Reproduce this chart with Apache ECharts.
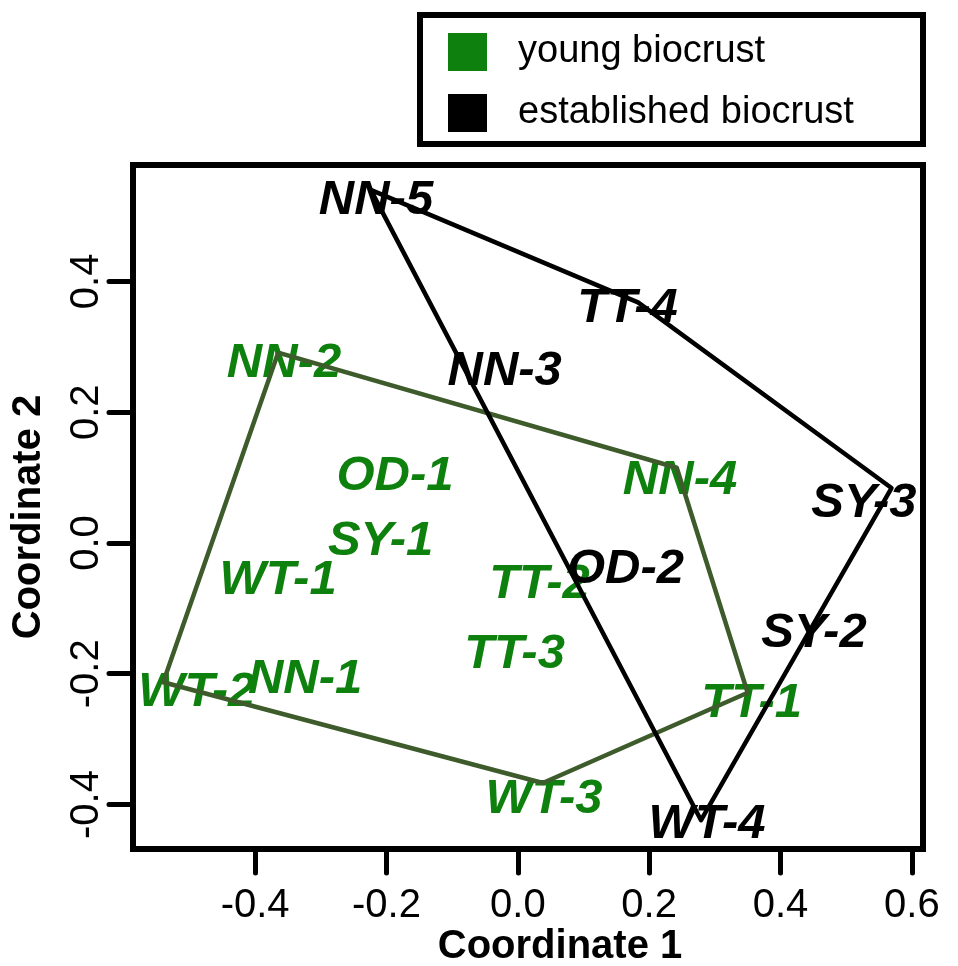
<!DOCTYPE html>
<html>
<head>
<meta charset="utf-8">
<script src="https://cdn.jsdelivr.net/npm/echarts@6/dist/echarts.min.js"></script>
<style>
html,body{margin:0;padding:0;background:#fff;}
#chart{width:958px;height:966px;}
</style>
</head>
<body>
<div id="chart"></div>
<script>
// ---- data ----
const youngNames = ['NN-1','NN-2','NN-4','OD-1','SY-1','TT-1','TT-2','TT-3','WT-1','WT-2','WT-3'];
const youngX = [-0.324,-0.356,0.247,-0.187,-0.209,0.356,0.033,-0.005,-0.365,-0.489,0.040];
const youngY = [-0.209,0.274,0.096,0.102,0.002,-0.246,-0.063,-0.170,-0.057,-0.229,-0.393];

const establishedNames = ['NN-3','NN-5','OD-2','SY-2','SY-3','TT-4','WT-4'];
const establishedX = [-0.020,-0.216,0.164,0.451,0.527,0.167,0.288];
const establishedY = [0.263,0.524,-0.041,-0.138,0.061,0.359,-0.431];

const youngHullX = [-0.365,0.242,0.350,0.038,-0.540];
const youngHullY = [0.291,0.115,-0.229,-0.367,-0.213];
const establishedHullX = [-0.224,0.183,0.569,0.279];
const establishedHullY = [0.540,0.368,0.084,-0.424];

const xTicks = [-0.4,-0.2,0.0,0.2,0.4,0.6];
const yTicks = [-0.4,-0.2,0.0,0.2,0.4];
const legendNames = ['young biocrust','established biocrust'];

// ---- styles ----
const GREEN = '#0e800e';
const GREEN_LINE = '#3e5b2b';
const BLACK = '#000000';
const FONT = '"Liberation Sans", Arial, sans-serif';

function pts(xs, ys, names) {
  return xs.map((x, i) => names ? {value: [x, ys[i]], name: names[i]} : [x, ys[i]]);
}
function closed(xs, ys) {
  const p = pts(xs, ys);
  p.push(p[0]);
  return p;
}

const chart = echarts.init(document.getElementById('chart'), null, {renderer: 'canvas'});

const labelStyle = (color) => ({
  show: true,
  position: 'inside',
  formatter: p => p.name,
  color: color,
  opacity: 1,
  fontFamily: FONT,
  fontSize: 49,
  fontWeight: 'bold',
  fontStyle: 'italic'
});

const option = {
  backgroundColor: '#ffffff',
  animation: false,
  grid: {
    left: 133, right: 35, top: 165, bottom: 117,
    show: true, borderColor: BLACK, borderWidth: 6, backgroundColor: 'transparent'
  },
  xAxis: {
    type: 'value',
    min: -0.586, max: 0.617,
    axisLine: {show: false, onZero: false},
    splitLine: {show: false},
    axisTick: {show: true, inside: false, length: 24, customValues: xTicks,
      lineStyle: {color: BLACK, width: 5, cap: 'round'}},
    axisLabel: {show: true, customValues: xTicks, margin: 37,
      formatter: v => v.toFixed(1),
      color: BLACK, fontFamily: FONT, fontSize: 40}
  },
  yAxis: {
    type: 'value',
    min: -0.468, max: 0.578,
    axisLine: {show: false, onZero: false},
    splitLine: {show: false},
    axisTick: {show: true, inside: false, length: 24, customValues: yTicks,
      lineStyle: {color: BLACK, width: 5, cap: 'round'}},
    axisLabel: {show: true, customValues: yTicks, margin: 26, rotate: 90,
      formatter: v => v.toFixed(1),
      color: BLACK, fontFamily: FONT, fontSize: 40}
  },
  graphic: [
    {type: 'text', x: 560, y: 947, z: 10,
      style: {text: 'Coordinate 1', fill: BLACK, font: 'bold 40px ' + FONT,
        textAlign: 'center', textVerticalAlign: 'middle'}},
    {type: 'text', x: 29, y: 517, rotation: Math.PI / 2, z: 10,
      style: {text: 'Coordinate 2', fill: BLACK, font: 'bold 40px ' + FONT,
        textAlign: 'center', textVerticalAlign: 'middle'}},
    {type: 'rect', shape: {x: 420, y: 15, width: 503, height: 129}, z: 10,
      style: {fill: '#fff', stroke: BLACK, lineWidth: 6}},
    {type: 'rect', shape: {x: 448, y: 33, width: 39, height: 38}, z: 11,
      style: {fill: GREEN}},
    {type: 'rect', shape: {x: 448, y: 94, width: 39, height: 38}, z: 11,
      style: {fill: BLACK}},
    {type: 'text', x: 518, y: 52, z: 11,
      style: {text: legendNames[0], fill: BLACK, font: '38px ' + FONT,
        textAlign: 'left', textVerticalAlign: 'middle'}},
    {type: 'text', x: 518, y: 113, z: 11,
      style: {text: legendNames[1], fill: BLACK, font: '38px ' + FONT,
        textAlign: 'left', textVerticalAlign: 'middle'}}
  ],
  series: [
    {
      name: legendNames[0], type: 'scatter', z: 2,
      symbol: 'circle', symbolSize: 1, itemStyle: {color: 'rgba(0,0,0,0)', opacity: 1},
      data: pts(youngX, youngY, youngNames),
      label: labelStyle(GREEN)
    },
    {
      name: legendNames[1], type: 'scatter', z: 2,
      symbol: 'circle', symbolSize: 1, itemStyle: {color: 'rgba(0,0,0,0)', opacity: 1},
      data: pts(establishedX, establishedY, establishedNames),
      label: labelStyle(BLACK)
    },
    {
      name: 'young hull', type: 'line', z: 4, showSymbol: false, symbol: 'none',
      data: closed(youngHullX, youngHullY),
      lineStyle: {color: GREEN_LINE, width: 4.5, join: 'round'}
    },
    {
      name: 'established hull', type: 'line', z: 4, showSymbol: false, symbol: 'none',
      data: closed(establishedHullX, establishedHullY),
      lineStyle: {color: BLACK, width: 4.5, join: 'round'}
    }
  ]
};
chart.setOption(option);
</script>
</body>
</html>
